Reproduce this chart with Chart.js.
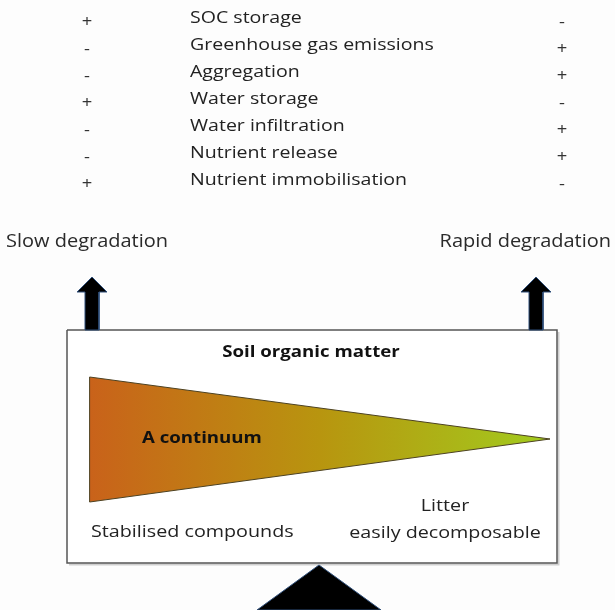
<!DOCTYPE html>
<html>
<head>
<meta charset="utf-8">
<script src="https://cdn.jsdelivr.net/npm/chart.js@4/dist/chart.umd.min.js"></script>
<style>
  html, body { margin: 0; padding: 0; background: #fdfdfd; }
  #wrap { width: 615px; height: 610px; position: relative; }
</style>
</head>
<body>
<div id="wrap"><canvas id="c"></canvas></div>
<script>
// ---- data ----
const properties = ['SOC storage', 'Greenhouse gas emissions', 'Aggregation', 'Water storage',
                    'Water infiltration', 'Nutrient release', 'Nutrient immobilisation'];
const slowEffects  = ['+', '-', '-', '+', '-', '-', '+'];
const rapidEffects = ['-', '+', '+', '-', '+', '+', '-'];
const endLabels = ['Slow degradation', 'Rapid degradation'];
const boxTitle = 'Soil organic matter';
const wedgeLabel = 'A continuum';
const stableLabel = ['Stabilised compounds'];
const litterLabel = ['Litter', 'easily decomposable'];

// ---- layout (diagram units = pixels of the 615x610 frame) ----
const L = {
  signLeftX: 87, labelX: 190, signRightX: 562, rowTop: 18, rowStep: 27.1,
  endLabelY: 242, slowX: 6, rapidRightX: 611,
  box: { x0: 67, x1: 557, y0: 330, y1: 563 },
  wedge: { x0: 89.6, yTop: 377, yBot: 502, tipX: 550, tipY: 439 },
  arrows: [92, 536], arrowTop: 277, headY: 292, headHalf: 15, shaftHalf: 7,
  pivot: { x: 319, y: 565, half: 62, base: 610 }
};

function poly(pts) { return pts.map(p => ({ x: p[0], y: p[1] })); }
function arrowPts(cx) {
  return poly([[cx, L.arrowTop], [cx + L.headHalf, L.headY], [cx + L.shaftHalf, L.headY],
    [cx + L.shaftHalf, L.box.y0], [cx - L.shaftHalf, L.box.y0], [cx - L.shaftHalf, L.headY],
    [cx - L.headHalf, L.headY], [cx, L.arrowTop]]);
}
const B = L.box, W = L.wedge, P = L.pivot;

function wedgeGradient(context) {
  const chart = context.chart;
  const { ctx, chartArea, scales } = chart;
  if (!chartArea) return '#b8950f';
  const g = ctx.createLinearGradient(scales.x.getPixelForValue(W.x0), 0, scales.x.getPixelForValue(W.tipX), 0);
  g.addColorStop(0, '#c9621a');
  g.addColorStop(0.5, '#b8950f');
  g.addColorStop(1, '#a2cc1e');
  return g;
}

const base = { showLine: true, pointRadius: 0, pointHoverRadius: 0, tension: 0 };
// Chart.js draws the last dataset first, so the topmost marks come first here.
const datasets = [
  // wedge
  Object.assign({}, base, { data: poly([[W.x0, W.yTop], [W.tipX, W.tipY], [W.x0, W.yBot], [W.x0, W.yTop]]),
    borderColor: '#4d4222', borderWidth: 1, backgroundColor: wedgeGradient, fill: 'shape' }),
  // arrows
  ...L.arrows.map(cx => Object.assign({}, base, { data: arrowPts(cx),
    borderColor: '#2f4f7a', borderWidth: 1, backgroundColor: '#000', fill: 'shape' })),
  // pivot triangle
  Object.assign({}, base, { data: poly([[P.x - P.half, P.base], [P.x, P.y], [P.x + P.half, P.base], [P.x - P.half, P.base]]),
    borderColor: '#2f4f7a', borderWidth: 1, backgroundColor: '#000', fill: 'shape' }),
  // box
  Object.assign({}, base, { data: poly([[B.x0, B.y0], [B.x1, B.y0], [B.x1, B.y1], [B.x0, B.y1], [B.x0, B.y0]]),
    borderColor: '#555', borderWidth: 1.5, backgroundColor: '#ffffff', fill: 'shape' }),
  // box shadow
  Object.assign({}, base, { data: poly([[B.x0 + 2, B.y1 + 1.5], [B.x1 + 1.5, B.y1 + 1.5], [B.x1 + 1.5, B.y0 + 2]]),
    borderColor: 'rgba(0,0,0,0.18)', borderWidth: 2, fill: false })
];

// text drawn slightly stretched horizontally, like the reference picture
function drawText(ctx, str, x, y, align, font, color, sx) {
  ctx.save();
  ctx.font = font;
  ctx.fillStyle = color;
  ctx.textAlign = align;
  ctx.textBaseline = 'middle';
  ctx.translate(x, y);
  ctx.scale(sx, 1);
  ctx.fillText(str, 0, 0);
  ctx.restore();
}

const textPlugin = {
  id: 'diagramText',
  afterDatasetsDraw(chart) {
    const { ctx, scales } = chart;
    const X = v => scales.x.getPixelForValue(v);
    const Y = v => scales.y.getPixelForValue(v);
    const S = 1.15;
    properties.forEach((p, i) => {
      const y = L.rowTop + i * L.rowStep;
      drawText(ctx, p, X(L.labelX), Y(y), 'left', '17px "Open Sans"', '#222', S);
      drawText(ctx, slowEffects[i], X(L.signLeftX), Y(y + 4), 'center', '16px "Open Sans"', '#333', S);
      drawText(ctx, rapidEffects[i], X(L.signRightX), Y(y + 4), 'center', '16px "Open Sans"', '#333', S);
    });
    drawText(ctx, endLabels[0], X(L.slowX), Y(L.endLabelY), 'left', '18px "Open Sans"', '#2a2a2a', 1.11);
    drawText(ctx, endLabels[1], X(L.rapidRightX), Y(L.endLabelY), 'right', '18px "Open Sans"', '#2a2a2a', 1.11);
    drawText(ctx, boxTitle, X(311), Y(352), 'center', 'bold 16px "Open Sans"', '#111', 1.165);
    drawText(ctx, wedgeLabel, X(142), Y(438), 'left', 'bold 16px "Open Sans"', '#111', 1.165);
    drawText(ctx, stableLabel[0], X(91), Y(532), 'left', '17px "Open Sans"', '#222', 1.16);
    drawText(ctx, litterLabel[0], X(445), Y(506), 'center', '17px "Open Sans"', '#222', 1.16);
    drawText(ctx, litterLabel[1], X(445), Y(533), 'center', '17px "Open Sans"', '#222', 1.16);
  }
};

new Chart(document.getElementById('c'), {
  type: 'scatter',
  data: { datasets },
  options: {
    responsive: true, maintainAspectRatio: false, animation: false,
    layout: { padding: 0 },
    plugins: { legend: { display: false }, tooltip: { enabled: false } },
    scales: {
      x: { type: 'linear', min: 0, max: 615, display: false },
      y: { type: 'linear', min: 0, max: 610, reverse: true, display: false }
    },
    events: []
  },
  plugins: [textPlugin]
});
</script>
</body>
</html>
